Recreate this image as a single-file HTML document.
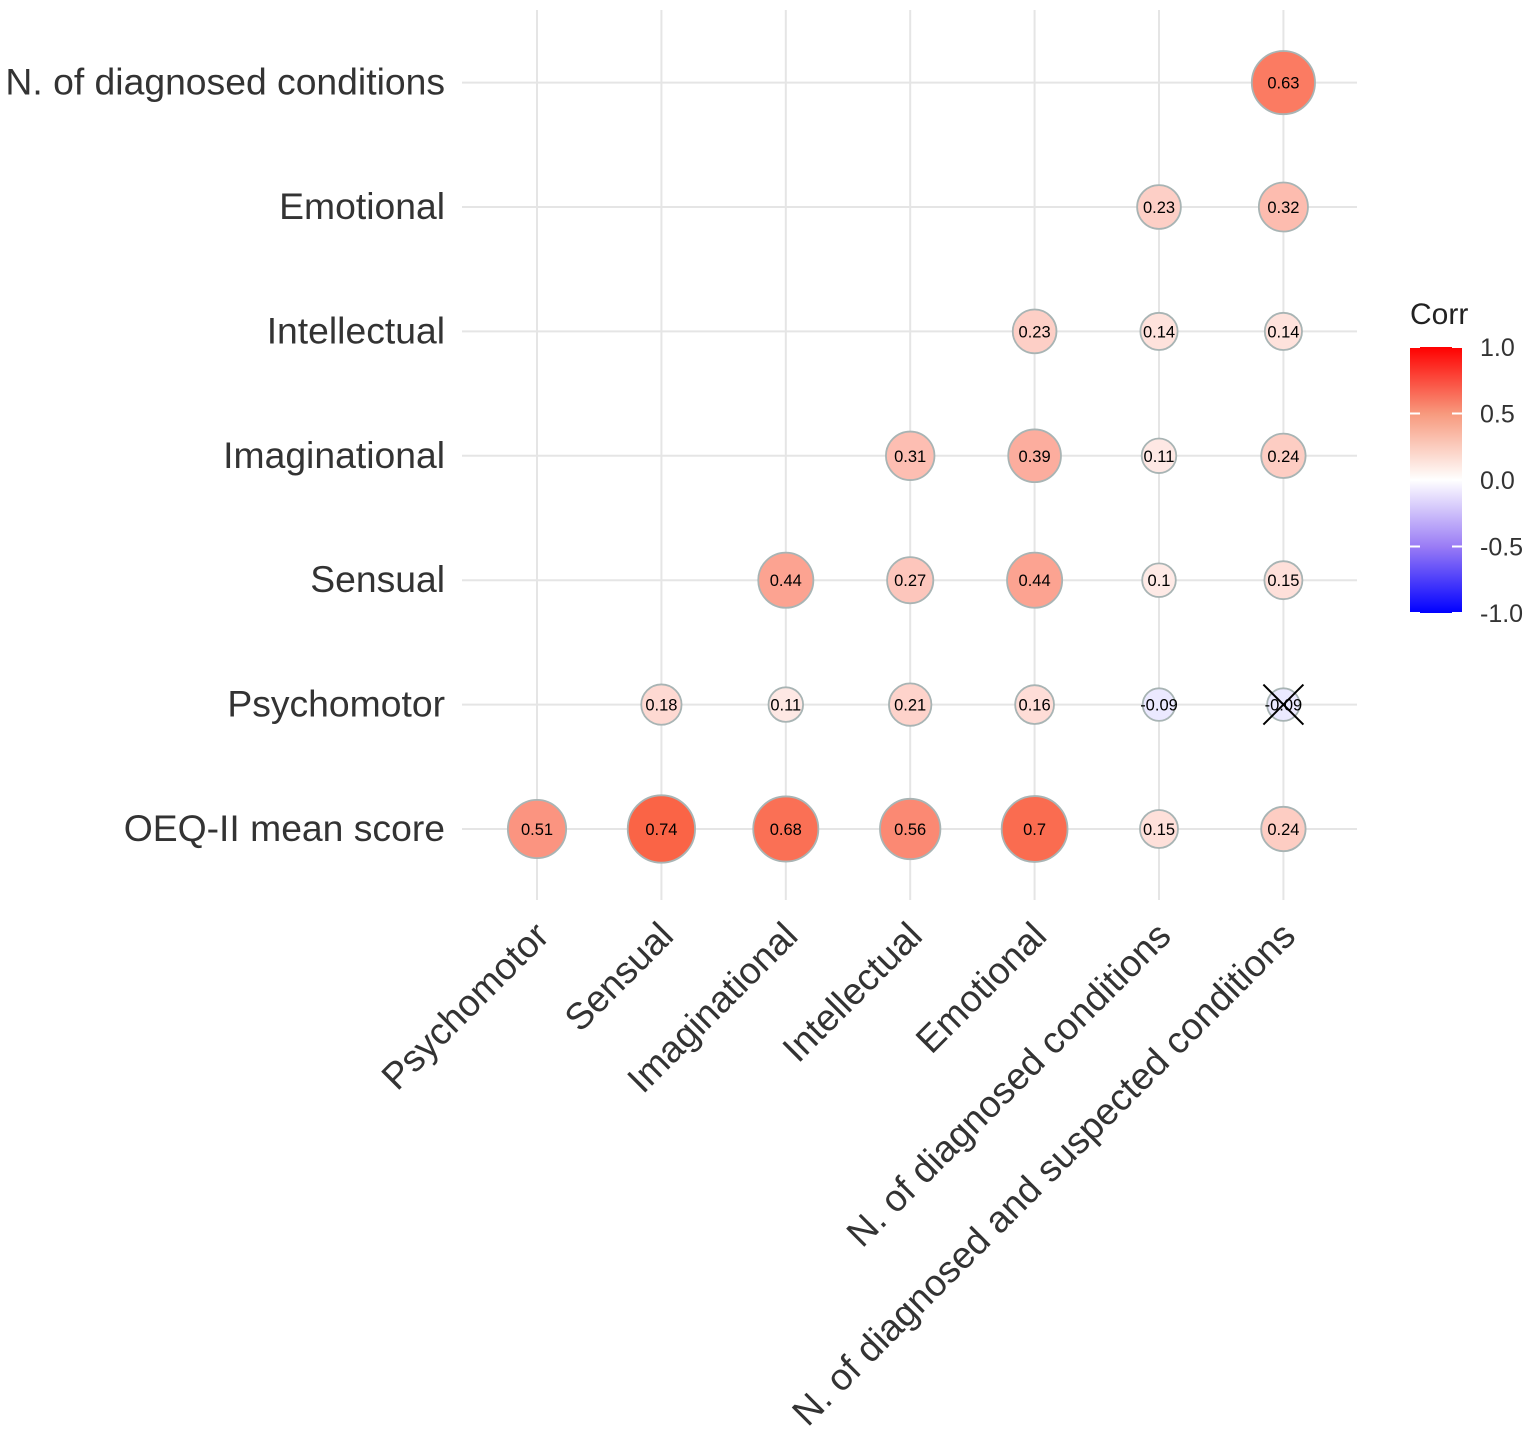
<!DOCTYPE html>
<html><head><meta charset="utf-8"><style>
body{margin:0;background:#fff;}
svg{font-family:"Liberation Sans",sans-serif;}
</style></head><body>
<svg id="chart" width="1535" height="1437" viewBox="0 0 1535 1437">
<defs><linearGradient id="lg" x1="0" y1="1" x2="0" y2="0">
<stop offset="0" stop-color="#0000ff"/><stop offset="0.25" stop-color="#9a7cf5"/><stop offset="0.5" stop-color="#ffffff"/><stop offset="0.75" stop-color="#f7997d"/><stop offset="1" stop-color="#ff0000"/></linearGradient></defs>
<g id="grid"></g><g id="marks"></g><g id="labels"></g>
<g>
<text x="1410" y="324" font-size="30" fill="#222">Corr</text>
<rect x="1410" y="347" width="52" height="266" fill="url(#lg)"/>
<g id="legticks"></g>
</g>
</svg>
<script>
const rowLabels=["OEQ-II mean score","Psychomotor","Sensual","Imaginational","Intellectual","Emotional","N. of diagnosed conditions"];
const colLabels=["Psychomotor","Sensual","Imaginational","Intellectual","Emotional","N. of diagnosed conditions","N. of diagnosed and suspected conditions"];
const rowOEQ=[0.51,0.74,0.68,0.56,0.7,0.15,0.24];
const rowPsychomotor=[null,0.18,0.11,0.21,0.16,-0.09,-0.09];
const rowSensual=[null,null,0.44,0.27,0.44,0.1,0.15];
const rowImaginational=[null,null,null,0.31,0.39,0.11,0.24];
const rowIntellectual=[null,null,null,null,0.23,0.14,0.14];
const rowEmotional=[null,null,null,null,null,0.23,0.32];
const rowNDiag=[null,null,null,null,null,null,0.63];
const insignificant=[[1,6]];
const legendTicks=[1.0,0.5,0.0,-0.5,-1.0];
const values=[rowOEQ,rowPsychomotor,rowSensual,rowImaginational,rowIntellectual,rowEmotional,rowNDiag];

const NS="http://www.w3.org/2000/svg";
function mk(t,a,p){const e=document.createElementNS(NS,t);for(const k in a)e.setAttribute(k,a[k]);p.appendChild(e);return e;}
const xS=i=>537+i*124.4;
const yS=j=>829-j*124.4;
const legY=v=>480-v*133;
const rS=c=>7+31*Math.sqrt(Math.abs(c));
function col(c){
 const a=Math.abs(c);
 if(c>=0){return `rgb(${Math.round(255-7*a)},${Math.round(Math.max(0,255-210*a))},${Math.round(Math.max(0,255-250*a))})`;}
 return `rgb(${Math.round(255-220*a)},${Math.round(255-250*a)},255)`;
}
const grid=document.getElementById('grid'),marks=document.getElementById('marks'),labels=document.getElementById('labels');
colLabels.forEach((l,i)=>{
 const g=mk('line',{x1:xS(i),x2:xS(i),y1:10,y2:900,stroke:'#e5e5e5','stroke-width':2},grid);
 
 
 const x=xS(i)+14,y=938;
 const t=mk('text',{x:x,y:y,'text-anchor':'end','font-size':37.3,fill:'#333',transform:`rotate(-45 ${x} ${y})`},labels);
 t.textContent=l;
 
 
});
rowLabels.forEach((l,j)=>{
 const g=mk('line',{x1:462,x2:1357,y1:yS(j),y2:yS(j),stroke:'#e5e5e5','stroke-width':2},grid);
 
 
 const t=mk('text',{x:445,y:yS(j)+12,'text-anchor':'end','font-size':37.3,fill:'#333'},labels);
 t.textContent=l;
 
 
});
values.forEach((row,j)=>row.forEach((v,i)=>{
 if(v===null)return;
 const c=mk('circle',{cx:xS(i),cy:yS(j),r:rS(v),fill:col(v),stroke:'#a8b4b4','stroke-width':1.8},marks);
 
 
 const t=mk('text',{x:xS(i),y:yS(j)+6,'text-anchor':'middle','font-size':16.5,fill:'#000'},marks);
 t.textContent=String(v);
 
 
}));
insignificant.forEach(([j,i])=>{
 const x=xS(i),y=yS(j),d=20;
 const p=mk('path',{d:`M${x-d} ${y-d}L${x+d} ${y+d}M${x+d} ${y-d}L${x-d} ${y+d}`,stroke:'#000','stroke-width':2},marks);
 
 
});
const lt=document.getElementById('legticks');
legendTicks.forEach(v=>{
 const l1=mk('line',{x1:1410,x2:1420,y1:legY(v),y2:legY(v),stroke:'#fff','stroke-width':2},lt);
 
 
 const l2=mk('line',{x1:1452,x2:1462,y1:legY(v),y2:legY(v),stroke:'#fff','stroke-width':2},lt);
 
 
 const t=mk('text',{x:1480,y:legY(v)+9,'font-size':25,fill:'#333'},lt);
 t.textContent=v.toFixed(1);
 
 
});
</script>
</body></html>
